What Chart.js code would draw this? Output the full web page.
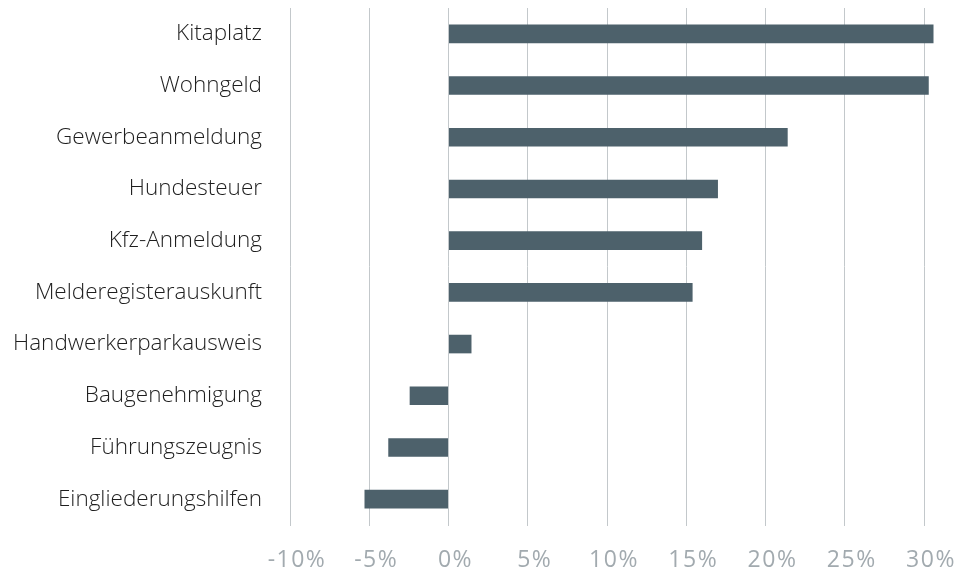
<!DOCTYPE html>
<html lang="de">
<head>
<meta charset="utf-8">
<title>Veränderung nach Verwaltungsleistung</title>
<script src="https://cdn.jsdelivr.net/npm/chart.js@4/dist/chart.umd.min.js"></script>
<style>
  html, body { margin: 0; padding: 0; background: #fff; }
  #wrap { width: 960px; height: 573px; position: relative; }
</style>
</head>
<body>
<div id="wrap"><canvas id="leistungenChart"></canvas></div>
<script>
// Kategorien (von oben nach unten) und Veränderung in Prozent
const leistungen = [
    'Kitaplatz',
    'Wohngeld',
    'Gewerbeanmeldung',
    'Hundesteuer',
    'Kfz-Anmeldung',
    'Melderegisterauskunft',
    'Handwerkerparkausweis',
    'Baugenehmigung',
    'Führungszeugnis',
    'Eingliederungshilfen'
];
const veraenderung = [30.6, 30.3, 21.4, 17.0, 16.0, 15.4, 1.45, -2.45, -3.8, -5.3];

// Achsenbereich der x-Achse
const xMin = -10;
const xMax = 30;
const xSchritt = 5;

const schrift = '"Open Sans", "Noto Sans", sans-serif';

// Die Prozentbeschriftung unten wird nach den Balken gezeichnet (ticks.z = 1),
// nur dort gilt die Sperrung
const sperrung = {
    id: 'sperrung',
    afterDatasetsDraw(chart) { chart.ctx.letterSpacing = '1.5px'; },
    afterDraw(chart) { chart.ctx.letterSpacing = '0px'; }
};

const ctx = document.getElementById('leistungenChart').getContext('2d');
const leistungenChart = new Chart(ctx, {
    type: 'bar',
    data: {
        labels: leistungen,
        datasets: [{
            label: 'Veränderung',
            data: veraenderung,
            backgroundColor: '#4d616b',
            borderWidth: 0,
            clip: false,
            barPercentage: 0.72,
            categoryPercentage: 0.5
        }]
    },
    options: {
        indexAxis: 'y',
        responsive: true,
        maintainAspectRatio: false,
        animation: false,
        layout: { padding: { top: 8, right: 36, left: 0, bottom: 0 } },
        plugins: {
            legend: { display: false },
            tooltip: { enabled: false }
        },
        scales: {
            x: {
                min: xMin,
                max: xMax,
                grid: {
                    color: '#c3c8cb',
                    lineWidth: 1,
                    drawTicks: true,
                    tickLength: 1
                },
                border: { display: false },
                ticks: {
                    stepSize: xSchritt,
                    padding: 21,
                    labelOffset: 7,
                    z: 1,
                    color: '#a2aaaf',
                    font: { family: schrift, size: 23 },
                    callback: (v) => v + '%'
                },
                afterFit(scale) {
                    scale.height = 48;
                    scale.paddingLeft = 0;
                    scale.paddingRight = 0;
                }
            },
            y: {
                grid: { display: false, drawTicks: false },
                border: { display: false },
                ticks: {
                    padding: 28,
                    color: '#1e1e1e',
                    font: { family: schrift, size: 22.5, weight: 300 }
                },
                afterFit(scale) {
                    scale.width = 290;
                    scale.paddingTop = 0;
                    scale.paddingBottom = 0;
                }
            }
        }
    },
    plugins: [sperrung]
});
</script>
</body>
</html>
